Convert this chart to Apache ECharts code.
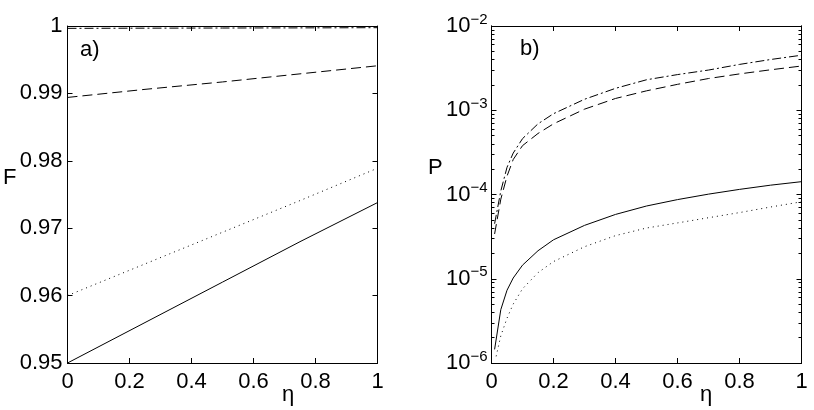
<!DOCTYPE html>
<html>
<head>
<meta charset="utf-8">
<script src="https://cdn.jsdelivr.net/npm/echarts@6/dist/echarts.min.js"></script>
<style>
  html, body { margin: 0; padding: 0; background: #fff; }
  #chart { width: 814px; height: 410px; }
</style>
</head>
<body>
<div id="chart"></div>
<script>
// panel a) fidelity F vs eta
const etaA = [0, 0.25, 0.5, 0.75, 1];
const fSolid = [0.9500, 0.9560, 0.9620, 0.9680, 0.9738];
const fDotted = [0.9600, 0.9647, 0.9694, 0.9741, 0.9789];
const fDashed = [0.9894, 0.9906, 0.9917, 0.9929, 0.9941];
const fDashDot = [0.99965, 0.99968, 0.9997, 0.99972, 0.99975];

// panel b) probability P vs eta (log scale)
const etaB = [0.01, 0.03, 0.05, 0.07, 0.1, 0.15, 0.2, 0.3, 0.4, 0.5, 0.6, 0.7, 0.8, 0.9, 1];
const pSolid = [1.45e-6, 4.3e-6, 7.3e-6, 1.02e-5, 1.45e-5, 2.15e-5, 2.9e-5, 4.3e-5, 5.8e-5, 7.3e-5, 8.7e-5, 1.01e-4, 1.15e-4, 1.29e-4, 1.42e-4];
const etaDot = [0.015, 0.03, 0.05, 0.07, 0.1, 0.15, 0.2, 0.3, 0.4, 0.5, 0.6, 0.7, 0.8, 0.9, 1];
const pDotted = [1.2e-6, 2.1e-6, 3.4e-6, 5.0e-6, 7.6e-6, 1.18e-5, 1.6e-5, 2.4e-5, 3.25e-5, 4.0e-5, 4.6e-5, 5.3e-5, 6.1e-5, 7.1e-5, 8.2e-5];
const pDashed = [3.4e-5, 8.8e-5, 1.65e-4, 2.6e-4, 3.8e-4, 5.3e-4, 6.9e-4, 1.03e-3, 1.38e-3, 1.7e-3, 2.03e-3, 2.38e-3, 2.7e-3, 3.02e-3, 3.35e-3];
const pDashDot = [4.5e-5, 1.1e-4, 2.1e-4, 3.1e-4, 4.6e-4, 6.9e-4, 9.1e-4, 1.35e-3, 1.82e-3, 2.3e-3, 2.65e-3, 3.0e-3, 3.5e-3, 4.0e-3, 4.5e-3];

const xTicks = [0, 0.2, 0.4, 0.6, 0.8, 1];

const FONT = 'Liberation Sans, Arial, Helvetica, sans-serif';
const BLACK = '#000';

// minor ticks of the log axis: 2..9 x 10^n
const logMinor = [];
for (let e = -6; e < -2; e++) {
  for (let m = 2; m <= 9; m++) logMinor.push(m * Math.pow(10, e));
}

const pairs = (xs, ys) => xs.map((x, i) => [x, ys[i]]);

const line = (data, type, xi, yi) => ({
  type: 'line',
  xAxisIndex: xi,
  yAxisIndex: yi,
  data,
  showSymbol: false,
  symbol: 'none',
  clip: true,
  smooth: false,
  lineStyle: { color: BLACK, width: 1, type },
  animation: false
});

const xAxisBase = (gridIndex, pos, labels) => ({
  type: 'value',
  gridIndex,
  position: pos,
  min: 0,
  max: 1,
  interval: 0.2,
  axisLine: { show: true, onZero: false, lineStyle: { color: BLACK, width: 1 } },
  axisTick: { show: true, inside: true, length: 5, lineStyle: { color: BLACK } },
  splitLine: { show: false },
  axisLabel: labels ? {
    show: true,
    color: BLACK,
    fontFamily: FONT,
    fontSize: 22,
    margin: 8,
    formatter: v => String(+v.toFixed(1))
  } : { show: false }
});

const yLinBase = (pos, labels) => ({
  type: 'value',
  gridIndex: 0,
  position: pos,
  min: 0.95,
  max: 1,
  interval: 0.01,
  axisLine: { show: true, onZero: false, lineStyle: { color: BLACK, width: 1 } },
  axisTick: { show: true, inside: true, length: 5, lineStyle: { color: BLACK } },
  splitLine: { show: false },
  axisLabel: labels ? {
    show: true,
    color: BLACK,
    fontFamily: FONT,
    fontSize: 22,
    margin: 5,
    formatter: v => String(+v.toFixed(2))
  } : { show: false }
});

const yLogBase = (pos, labels, minor) => ({
  type: 'log',
  logBase: 10,
  gridIndex: 1,
  position: pos,
  min: 1e-6,
  max: 1e-2,
  axisLine: { show: true, onZero: false, lineStyle: { color: BLACK, width: 1 } },
  axisTick: minor
    ? { show: true, inside: true, length: 3, customValues: logMinor, lineStyle: { color: BLACK } }
    : { show: true, inside: true, length: 5, lineStyle: { color: BLACK } },
  splitLine: { show: false },
  axisLabel: labels ? {
    show: true,
    color: BLACK,
    fontFamily: FONT,
    margin: 4,
    formatter: v => '{b|10}{s|\u2212' + Math.round(-Math.log10(v)) + '}',
    rich: {
      b: { fontFamily: FONT, fontSize: 22, color: BLACK },
      s: { fontFamily: FONT, fontSize: 15, color: BLACK, padding: [0, 0, 13, 0] }
    }
  } : { show: false }
});

const txt = (text, left, top) => ({
  type: 'text',
  left,
  top,
  style: { text, font: '22px ' + FONT, fill: BLACK }
});

const option = {
  backgroundColor: '#fff',
  animation: false,
  grid: [
    { left: 67.5, top: 26, width: 310, height: 337 },
    { left: 491.5, top: 26, width: 310, height: 337 }
  ],
  xAxis: [
    xAxisBase(0, 'bottom', true),
    xAxisBase(0, 'top', false),
    xAxisBase(1, 'bottom', true),
    xAxisBase(1, 'top', false)
  ],
  yAxis: [
    yLinBase('left', true),
    yLinBase('right', false),
    yLogBase('left', true, false),
    yLogBase('right', false, false),
    yLogBase('left', false, true),
    yLogBase('right', false, true)
  ],
  series: [
    line(pairs(etaA, fSolid), 'solid', 0, 0),
    line(pairs(etaA, fDotted), [1, 4], 0, 0),
    line(pairs(etaA, fDashed), [10, 5], 0, 0),
    line(pairs(etaA, fDashDot), [9, 3, 2, 3], 0, 0),
    line(pairs(etaB, pSolid), 'solid', 2, 2),
    line(pairs(etaDot, pDotted), [1, 4], 2, 2),
    line(pairs(etaB, pDashed), [10, 5], 2, 2),
    line(pairs(etaB, pDashDot), [9, 3, 2, 3], 2, 2)
  ],
  graphic: [
    txt('a)', 80, 39),
    txt('b)', 520, 38),
    txt('F', 3, 167),
    txt('P', 428, 157),
    txt('\u03b7', 282, 384),
    txt('\u03b7', 700, 384)
  ]
};

const chart = echarts.init(document.getElementById('chart'), null, { renderer: 'canvas' });
chart.setOption(option);
</script>
</body>
</html>
